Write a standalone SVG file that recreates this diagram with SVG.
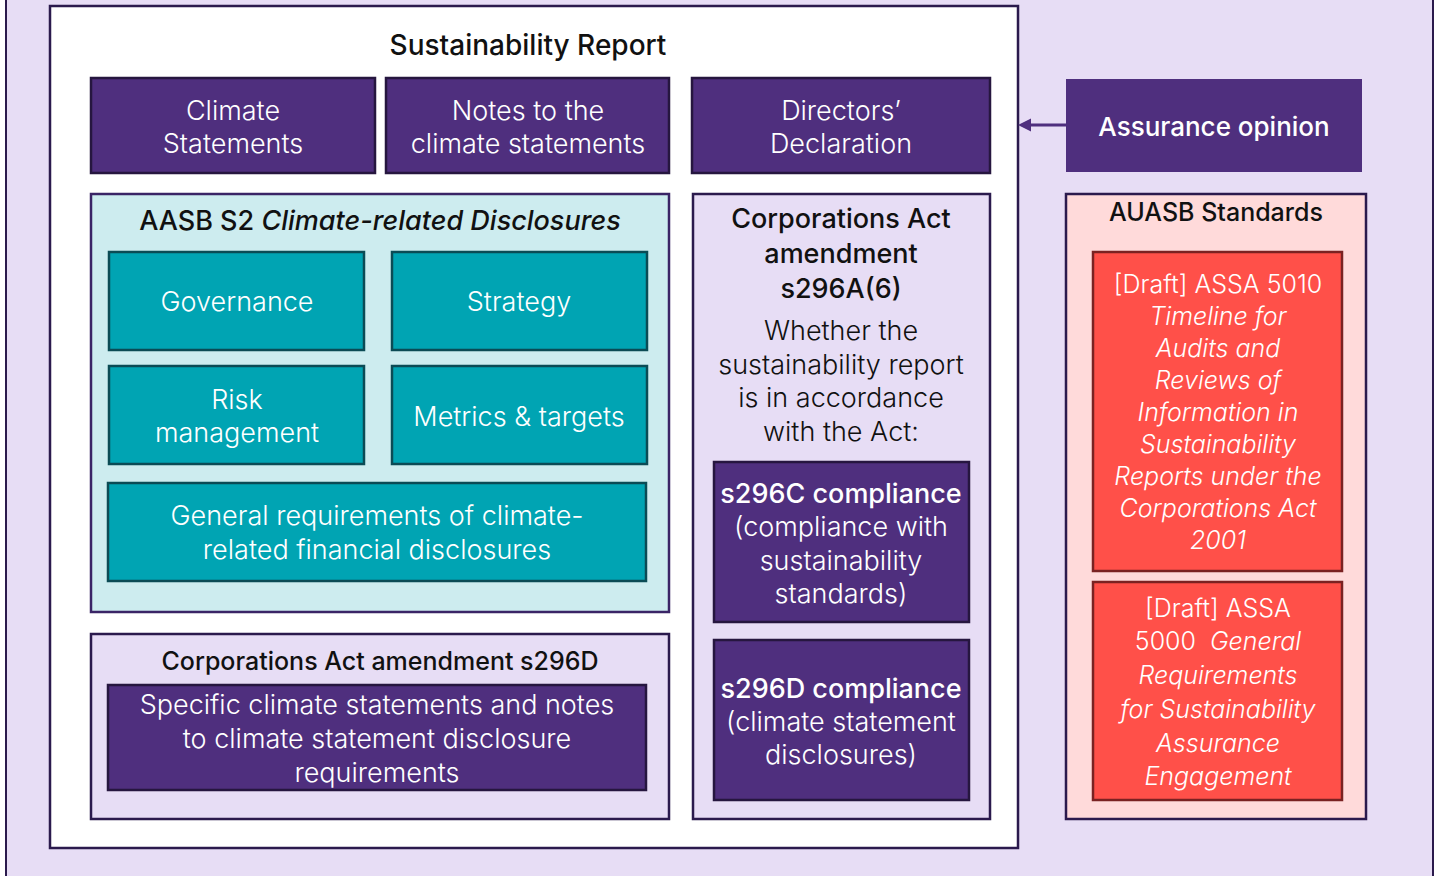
<svg xmlns="http://www.w3.org/2000/svg" width="1440" height="876" viewBox="0 0 1440 876">
<style>
text{font-family:Inter,"Noto Sans",sans-serif;text-anchor:middle}
.w{fill:#ffffff}
.k{fill:#111111}
.b{font-size:27px;font-weight:300}
.h{font-size:27px;font-weight:500}
.m{font-size:25px;font-weight:300}
.it{font-style:italic}
.pur{fill:#4F2F7E;stroke:#26163F;stroke-width:2.5}
.teal{fill:#00A4B3;stroke:#0B4B55;stroke-width:2.5}
.red{fill:#FF5049;stroke:#7A2222;stroke-width:2.5}
.lav{fill:#E7DDF5;stroke:#2B1A4D;stroke-width:2.5}
</style>
<defs>
<marker id="ah" viewBox="0 0 10 10" refX="1" refY="5" markerWidth="4.5" markerHeight="4.5" orient="auto-start-reverse" markerUnits="strokeWidth">
<path d="M0,0 L10,5 L0,10 z" fill="#4F2F7E"/>
</marker>
</defs>
<g id="background">
<rect x="6" y="-10" width="1427" height="900" fill="#E7DDF5" stroke="#2B1A4D" stroke-width="2"/>
</g>
<g id="sustainability-report">
<rect x="50" y="6" width="968" height="842" fill="#ffffff" stroke="#2B1A4D" stroke-width="2.5"/>
<text x="528" y="55" class="h k" style="font-size:28px">Sustainability Report</text>
</g>
<g id="climate-statements">
<rect x="91" y="78" width="284" height="95" class="pur"/>
<text x="233" y="120" class="b w">Climate</text>
<text x="233" y="153" class="b w">Statements</text>
</g>
<g id="notes">
<rect x="386" y="78" width="283" height="95" class="pur"/>
<text x="528" y="120" class="b w">Notes to the</text>
<text x="528" y="153" class="b w">climate statements</text>
</g>
<g id="directors">
<rect x="692" y="78" width="298" height="95" class="pur"/>
<text x="841" y="120" class="b w">Directors’</text>
<text x="841" y="153" class="b w">Declaration</text>
</g>
<g id="aasb-s2">
<rect x="91" y="194" width="578" height="418" fill="#CDECEF" stroke="#3A2466" stroke-width="2.5"/>
<text x="380" y="230" class="h k">AASB S2 <tspan class="it">Climate-related Disclosures</tspan></text>
</g>
<g id="governance">
<rect x="109" y="252" width="255" height="98" class="teal"/>
<text x="237" y="311" class="b w">Governance</text>
</g>
<g id="strategy">
<rect x="392" y="252" width="255" height="98" class="teal"/>
<text x="519" y="311" class="b w">Strategy</text>
</g>
<g id="risk">
<rect x="109" y="366" width="255" height="98" class="teal"/>
<text x="237" y="409" class="b w">Risk</text>
<text x="237" y="442" class="b w">management</text>
</g>
<g id="metrics">
<rect x="392" y="366" width="255" height="98" class="teal"/>
<text x="519" y="426" class="b w">Metrics &amp; targets</text>
</g>
<g id="general">
<rect x="108" y="483" width="538" height="98" class="teal"/>
<text x="377" y="525" class="b w">General requirements of climate-</text>
<text x="377" y="559" class="b w">related financial disclosures</text>
</g>
<g id="s296d-amendment">
<rect x="91" y="634" width="578" height="185" class="lav"/>
<text x="380" y="670" class="k" style="font-size:25px;font-weight:500">Corporations Act amendment s296D</text>
</g>
<g id="specific">
<rect x="108" y="685" width="538" height="105" class="pur"/>
<text x="377" y="714" class="b w">Specific climate statements and notes</text>
<text x="377" y="748" class="b w">to climate statement disclosure</text>
<text x="377" y="782" class="b w">requirements</text>
</g>
<g id="s296a">
<rect x="693" y="194" width="297" height="625" class="lav"/>
<text x="841" y="228" class="h k">Corporations Act</text>
<text x="841" y="263" class="h k">amendment</text>
<text x="841" y="298" class="h k">s296A(6)</text>
<text x="841" y="340" class="b k">Whether the</text>
<text x="841" y="374" class="b k">sustainability report</text>
<text x="841" y="407" class="b k">is in accordance</text>
<text x="841" y="441" class="b k">with the Act:</text>
</g>
<g id="s296c-compliance">
<rect x="714" y="462" width="255" height="160" class="pur"/>
<text x="841" y="503" class="h w">s296C compliance</text>
<text x="841" y="536" class="b w">(compliance with</text>
<text x="841" y="570" class="b w">sustainability</text>
<text x="841" y="603" class="b w">standards)</text>
</g>
<g id="s296d-compliance">
<rect x="714" y="640" width="255" height="160" class="pur"/>
<text x="841" y="698" class="h w">s296D compliance</text>
<text x="841" y="731" class="b w">(climate statement</text>
<text x="841" y="764" class="b w">disclosures)</text>
</g>
<g id="assurance-opinion">
<rect x="1066" y="79" width="296" height="93" fill="#4F2F7E"/>
<text x="1214" y="136" class="h w" style="font-size:26px">Assurance opinion</text>
</g>
<g id="auasb">
<rect x="1066" y="194" width="300" height="625" fill="#FFDADA" stroke="#2B1A4D" stroke-width="2.5"/>
<text x="1216" y="221" class="k" style="font-size:25px;font-weight:500">AUASB Standards</text>
</g>
<g id="assa5010">
<rect x="1093" y="252" width="249" height="319" class="red"/>
<text x="1218" y="293" class="m w">[Draft] ASSA 5010</text>
<text x="1218" y="325" class="m w it">Timeline for</text>
<text x="1218" y="357" class="m w it">Audits and</text>
<text x="1218" y="389" class="m w it">Reviews of</text>
<text x="1218" y="421" class="m w it">Information in</text>
<text x="1218" y="453" class="m w it">Sustainability</text>
<text x="1218" y="485" class="m w it">Reports under the</text>
<text x="1218" y="517" class="m w it">Corporations Act</text>
<text x="1218" y="549" class="m w it">2001</text>
</g>
<g id="assa5000">
<rect x="1093" y="582" width="249" height="218" class="red"/>
<text x="1218" y="617" class="m w">[Draft] ASSA</text>
<text x="1218" y="650" class="m w" xml:space="preserve">5000  <tspan class="it">General</tspan></text>
<text x="1218" y="684" class="m w it">Requirements</text>
<text x="1218" y="718" class="m w it">for Sustainability</text>
<text x="1218" y="752" class="m w it">Assurance</text>
<text x="1218" y="785" class="m w it">Engagement</text>
</g>
<g id="connectors">
<line x1="1066" y1="125" x2="1030" y2="125" stroke="#4F2F7E" stroke-width="3" marker-end="url(#ah)"/>
</g>
</svg>
